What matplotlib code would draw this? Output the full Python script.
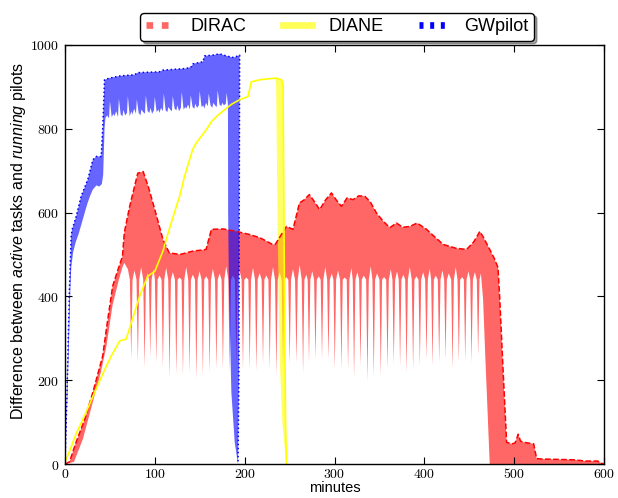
import numpy as np
import matplotlib
matplotlib.use("Agg")
import matplotlib.pyplot as plt
from matplotlib.lines import Line2D

plt.rcParams["mathtext.fontset"] = "cm"
plt.rcParams["mathtext.rm"] = "Liberation Sans"
plt.rcParams["mathtext.it"] = "Liberation Sans:italic"

# DIRAC: upper envelope (dashed line)
dirac_x = [0, 5, 12, 22, 31, 42, 46, 53, 59, 64, 66, 72, 81, 87, 93, 100, 109, 116, 128,
           142, 157, 163, 176, 191, 205, 217, 231, 234, 246.5, 253.8, 261, 266, 272, 278,
           283.5, 290, 296.6, 302, 307.7, 314, 320.7, 327, 333.7, 340, 346.7, 354, 361.5,
           369, 376, 383.8, 392, 402.5, 410, 421, 435, 447, 455, 461.8, 466, 472.8, 478,
           482, 484, 487.8, 491.6, 497, 501, 504.5, 507, 510, 516, 521.7, 525, 530, 566,
           580, 593, 597, 600]
dirac_y = [0, 5, 50, 107, 171, 258, 321, 424, 464, 496, 552, 615, 694, 698, 660, 607, 536,
           504, 500, 508, 512, 560, 561, 555, 548, 540, 524, 524, 567, 560, 623, 630, 643,
           625, 607, 630, 647, 630, 615, 635, 631, 640, 639, 625, 599, 580, 564, 575, 565,
           567, 575, 560, 545, 524, 515, 512, 530, 555, 540, 512, 490, 469, 393, 218, 52,
           48, 50, 71, 55, 52, 50, 48, 13, 12, 10, 7, 7, 2, 0]
# DIRAC: lower edge of the band, start and end pieces
dirac_low_start_x = [0, 10, 20, 30, 40, 46, 53, 60, 64, 66, 70]
dirac_low_start_y = [0, 5, 60, 140, 220, 280, 380, 440, 470, 480, 465]
dirac_low_end_x = [463, 465.4, 468, 470.5, 472.8, 600]
dirac_low_end_y = [455, 393, 250, 120, 0, 0]
# DIRAC: downward spikes (tip time, tip value)
spike_t = [73.7, 81.1, 88.6, 94.9, 101.6, 109.0, 116.4, 123.9, 131.3, 138.7, 146.2, 153.5,
           161.0, 168.5, 175.8, 183.3, 190.7, 198.1, 205.6, 213.0, 220.4, 227.9, 235.3,
           242.7, 250.1, 257.6, 265.0, 271.6, 278.8, 286.1, 293.3, 300.3, 307.7, 315.1,
           321.8, 328.9, 336.7, 343.7, 351.5, 359.0, 366.0, 373.0, 380.2, 387.5, 395.0,
           402.4, 409.1, 416.5, 423.6, 431.4, 438.4, 445.5, 452.6, 459.9]
spike_d = [250, 242, 230, 254, 242, 230, 206, 214, 210, 218, 202, 210, 218, 226, 226, 220,
           234, 226, 226, 222, 238, 226, 214, 230, 238, 242, 218, 242, 250, 250, 250, 226,
           226, 226, 206, 234, 198, 210, 210, 226, 238, 234, 218, 226, 234, 250, 234, 242,
           250, 226, 242, 246, 242, 258]
gap_top = [462, 470, 455, 465, 450, 468, 458, 445, 470, 452, 460, 448, 466, 455, 472, 450,
           462, 445, 468, 456, 450, 470, 458, 446, 465, 475, 452, 460, 448, 470, 455, 462,
           445, 468, 458, 450, 472, 455, 446, 465, 460, 452, 470, 448, 458, 466, 450, 462,
           455, 470, 446, 460, 458, 455]
shoulder = 440

# DIANE
diane_x = [0, 5, 12, 23.6, 33, 42, 51.5, 61, 68, 74, 83, 92, 100, 109, 116, 124, 127.6,
           133, 142, 146, 157, 163, 170, 178, 185, 194, 203.7, 207.4, 216.7, 225, 235,
           241, 242.7, 244, 245.5, 246.5]
diane_y = [5, 30, 70, 124, 171, 215, 258, 294, 298, 338, 400, 448, 460, 508, 560, 615,
           639, 686, 750, 766, 797, 817, 832, 846, 858, 869, 877, 912, 917, 919, 921, 917,
           905, 500, 100, 0]
diane_drop_x = [234, 235, 237, 239, 242, 246.3]
diane_drop_y = [921, 900, 520, 250, 95, 0]

# GWpilot
gw_x = [0, 2, 5, 6.9, 8, 12.5, 18, 25.4, 31, 34.8, 40.3, 42, 44, 49.6, 60.7, 77.4, 81,
        105, 109, 135, 140.6, 142.4, 153.5, 155.4, 165, 172, 178, 183.3, 188, 194.4,
        193.5, 192.6]
gw_y = [0, 150, 420, 545, 560, 591, 639, 679, 726, 734, 734, 800, 917, 921, 926, 929,
        934, 936, 940, 944, 948, 955, 960, 974, 976, 979, 975, 972, 970, 976, 200, 0]
gw_low_x = [0, 3, 6, 7, 9, 12, 15, 18, 22, 25, 28, 31, 35, 38, 41, 42.5, 44, 45,
            47, 49, 50, 52, 54, 55, 57, 59, 60, 62, 64, 65, 67, 69, 70, 72, 74, 75, 77,
            79, 80, 82, 84, 85, 87, 89, 90, 92, 94, 95, 97, 99, 100, 102, 104, 105, 107,
            109, 110, 112, 114, 115, 117, 119, 120, 122, 124, 125, 127, 129, 130, 132,
            134, 135, 137, 139, 140, 142, 144, 145, 147, 149, 150, 152, 154, 155, 157,
            159, 160, 162, 164, 165, 167, 169, 170, 172, 174, 175, 177, 179, 180,
            181.4, 181.6, 182.5, 185.2, 188.9, 192.6]
gw_low_y = [0, 180, 420, 470, 505, 530, 548, 570, 600, 622, 640, 655, 665, 662, 668, 690,
            800, 826, 832, 825, 866, 828, 836, 830, 842, 828, 872, 834, 830, 845, 832,
            838, 878, 830, 842, 834, 848, 836, 870, 838, 832, 846, 840, 836, 880, 842,
            838, 850, 836, 844, 876, 840, 846, 838, 850, 842, 884, 844, 840, 852, 846,
            842, 878, 848, 844, 856, 842, 850, 888, 846, 852, 848, 858, 846, 880, 852,
            848, 860, 850, 856, 890, 852, 856, 848, 862, 854, 884, 856, 850, 862, 856,
            852, 892, 858, 854, 862, 856, 860, 886, 858, 600, 420, 171, 52, 0]

xticks = [0, 100, 200, 300, 400, 500, 600]
yticks = [0, 200, 400, 600, 800, 1000]

# lower edge of the DIRAC band with spikes
low_x = list(dirac_low_start_x)
low_y = list(dirac_low_start_y)
for t, d, g in zip(spike_t, spike_d, gap_top):
    low_x += [t - 1.5, t, t + 1.5, t + 3.65]
    low_y += [shoulder, d, shoulder, g]
low_x = low_x[:-1] + dirac_low_end_x
low_y = low_y[:-1] + dirac_low_end_y

fig = plt.figure(figsize=(6.18, 4.98), dpi=100)
ax = fig.add_axes([65 / 618, 1 - 464 / 498, 539 / 618, 419 / 498])

ax.fill(np.r_[dirac_x, low_x[::-1]], np.r_[dirac_y, low_y[::-1]],
        color="red", alpha=0.6, lw=0)
ax.plot(dirac_x, dirac_y, color="red", ls="--", lw=1.1)

ax.fill(np.r_[gw_x, gw_low_x[::-1]], np.r_[gw_y, gw_low_y[::-1]],
        color="blue", alpha=0.6, lw=0)
ax.plot(gw_x, gw_y, color="blue", ls=":", lw=1.1)

dx = np.array(diane_x)
dy = np.array(diane_y)
keep = dx >= 234
ax.fill(np.r_[dx[keep], diane_drop_x[::-1]], np.r_[dy[keep], diane_drop_y[::-1]],
        color="yellow", alpha=0.6, lw=0)
ax.plot(diane_x, diane_y, color="yellow", lw=1.2)

ax.set_xlim(0, 600)
ax.set_ylim(0, 1000)
ax.set_xticks(xticks, labels=[f"${t}$" for t in xticks])
ax.set_yticks(yticks, labels=[f"${t}$" for t in yticks])
ax.tick_params(direction="in", top=True, right=True, length=5, width=0.8,
               labelsize=10, pad=4)
ax.tick_params(axis="x", pad=2)
for sp in ax.spines.values():
    sp.set_linewidth(1.0)

ax.set_xlabel("minutes", fontsize=10.5, family="Liberation Sans")
ax.set_ylabel("Difference between $active$ tasks and $running$ pilots",
              fontsize=11.5, family="Liberation Sans", math_fontfamily="custom")
ax.xaxis.set_label_coords(0.5, -0.041)
ax.yaxis.set_label_coords(-0.087, 0.532)
ax.yaxis.label.set_va("center")

handles = [
    Line2D([], [], color="#ff6666", lw=4.8, dashes=(1, 1.3), dash_capstyle="butt"),
    Line2D([], [], color="#ffff55", lw=4.8),
    Line2D([], [], color="blue", lw=4.8, dashes=(0.6, 1.0), dash_capstyle="butt"),
]
leg = ax.legend(handles, ["DIRAC", "DIANE", "GWpilot"], loc="center",
                bbox_to_anchor=(0.505, 1.043), ncol=3, fancybox=True, shadow=True,
                framealpha=1, edgecolor="black", handlelength=1.6, handletextpad=0.9,
                columnspacing=2.0, borderpad=0.3,
                prop={"family": "Liberation Sans", "size": 13})
leg.get_frame().set_linewidth(1.0)

fig.savefig("out.png", dpi=100)
